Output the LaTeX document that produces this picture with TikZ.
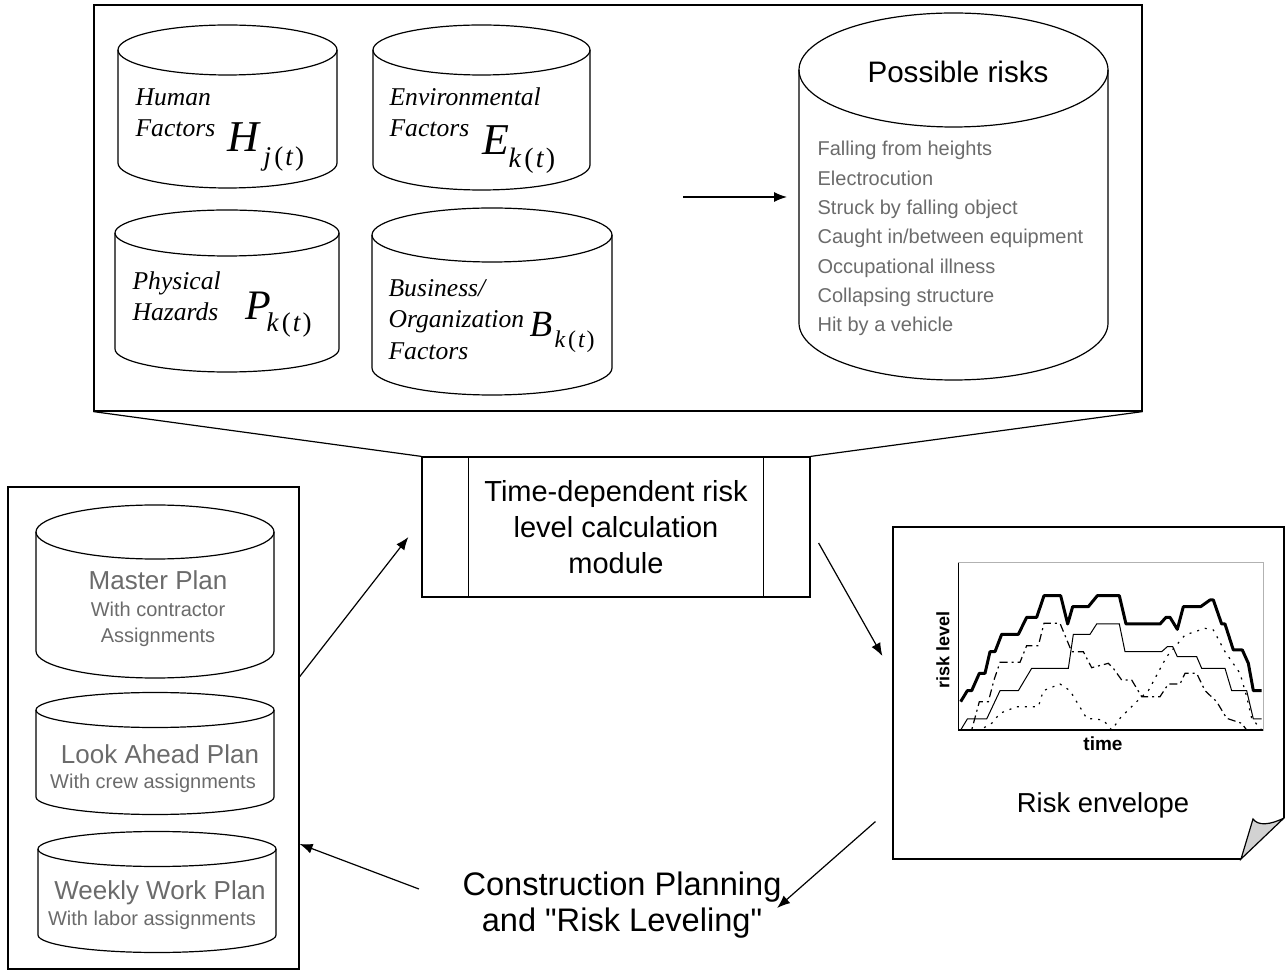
\documentclass[tikz,border=0pt]{standalone}
\usepackage{fontspec}
\setmainfont{Liberation Sans}
\newfontfamily\serif{Liberation Serif}
\usetikzlibrary{arrows.meta,calc}
\tikzset{>={Latex[length=6.5pt,width=5pt]}}
\colorlet{lightink}{black!58}
\tikzset{
  panel/.style={draw, inner sep=0pt},
  factortext/.style={font=\serif\itshape\fontsize{12.8}{15}\selectfont, anchor=base west, inner sep=0pt},
  risktext/.style={font=\fontsize{10}{12}\selectfont, text=lightink, anchor=base west, inner sep=0pt},
  plantitle/.style={font=\fontsize{13}{15}\selectfont, text=lightink, anchor=base, inner sep=0pt},
  plannote/.style={font=\fontsize{10}{12}\selectfont, text=lightink, anchor=base, inner sep=0pt}
}
% cylinder: left x, right x, top centre y, bottom centre y, half height of the ellipse
\newcommand{\drum}[5]{%
  \draw ({(#1+#2)/2},#3) ellipse [x radius={(#2-#1)/2}, y radius=#5];
  \draw (#1,#3) -- (#1,#4) arc [start angle=180, end angle=0, x radius={(#2-#1)/2}, y radius=#5] -- (#2,#3);
}
\newcommand{\bigvar}[2]{{\fontsize{#2}{#2}\selectfont\serif\itshape #1}}
\newcommand{\subvar}[2]{{\fontsize{#2}{#2}\selectfont\serif\itshape #1\kern0.12em\upshape(\kern0.08em\itshape t\kern0.08em\upshape)}}

\begin{document}
\begin{tikzpicture}[x=0.5pt,y=-0.5pt,line width=0.6pt]
  \useasboundingbox (0,0) rectangle (1285,972);

  % factors and possible risks
  \node[panel, minimum width=524pt, minimum height=203pt] (factors) at (618,208) {};
  \drum{118}{337}{50}{163}{25}
  \drum{373}{590}{50}{165}{25}
  \drum{115}{339}{233}{349}{23}
  \drum{372}{612}{235}{368}{27}
  \drum{799}{1108}{70}{323}{57}

  \node[factortext] (human1) at (135,106) {Human};
  \node[factortext] (human2) at (135,137) {Factors};
  \node[anchor=base west, inner sep=0pt] (hsym) at (227,152) {\bigvar{H}{22}};
  \node[anchor=base west, inner sep=0pt] (hsub) at (263,166) {\subvar{j}{13.5}};

  \node[factortext] (env1) at (389,106) {Environmental};
  \node[factortext] (env2) at (389,137) {Factors};
  \node[anchor=base west, inner sep=0pt] (esym) at (482,155) {\bigvar{E}{22}};
  \node[anchor=base west, inner sep=0pt] (esub) at (508,168) {\subvar{k}{14}};

  \node[factortext] (phys1) at (132,290) {Physical};
  \node[factortext] (phys2) at (132,321) {Hazards};
  \node[anchor=base west, inner sep=0pt] (psym) at (245,320) {\bigvar{P}{21}};
  \node[anchor=base west, inner sep=0pt] (psub) at (266,332) {\subvar{k}{13.5}};

  \node[factortext] (bus1) at (388,297) {Business/};
  \node[factortext] (bus2) at (388,328) {Organization};
  \node[factortext] (bus3) at (388,360) {Factors};
  \node[anchor=base west, inner sep=0pt] (bsym) at (529,337) {\bigvar{B}{18.5}};
  \node[anchor=base west, inner sep=0pt] (bsub) at (554,348) {\subvar{k}{12}};

  \coordinate (feed) at (683,197);
  \coordinate (risks) at (787,197);
  \draw[->] (feed) -- (risks);

  \node[anchor=base, inner sep=0pt, font=\fontsize{14.8}{17}\selectfont] (risktitle) at (958,83) {Possible risks};
  \foreach \hazard [count=\i from 0] in {Falling from heights, Electrocution,
      Struck by falling object, Caught in/between equipment, Occupational illness,
      Collapsing structure, Hit by a vehicle}
    \node[risktext] (risk\i) at (817,{156+29.3*\i}) {\hazard};

  % calculation module
  \node[panel, minimum width=194pt, minimum height=70pt, align=center,
    font=\fontsize{14.5}{18}\selectfont] (module) at (616,527)
    {Time-dependent risk\\level calculation\\module};
  \draw ([xshift=23.5pt]module.north west) -- ([xshift=23.5pt]module.south west);
  \draw ([xshift=-23.5pt]module.north east) -- ([xshift=-23.5pt]module.south east);
  \draw (factors.south west) -- (module.north west);
  \draw (factors.south east) -- (module.north east);

  % plans
  \node[panel, minimum width=145.5pt, minimum height=241pt] (plans) at (153.5,728) {};
  \drum{36}{274}{532}{651}{27}
  \drum{36}{274}{710}{797}{17.5}
  \drum{38}{276}{849}{935}{17.5}
  \node[plantitle] (master) at (158,589) {Master Plan};
  \node[plannote] (master1) at (158,617) {With contractor};
  \node[plannote] (master2) at (158,642) {Assignments};
  \node[plantitle] (look) at (160,763) {Look Ahead Plan};
  \node[plannote] (look1) at (153,788) {With crew assignments};
  \node[plantitle] (weekly) at (160,899) {Weekly Work Plan};
  \node[plannote] (weekly1) at (152,925) {With labor assignments};

  % risk envelope
  \node[minimum width=195.5pt, minimum height=166pt, inner sep=0pt] (envelope) at (1088.5,693) {};
  \draw (1241,859) -- (893,859) -- (893,527) -- (1284,527) -- (1284,818);
  \filldraw[fill=gray!35] (1241,859) -- (1253,819) .. controls (1258,826) and (1270,825) .. (1284,818) -- cycle;
  \begin{scope}[shift={(890,500)},scale=1/3]
    \draw[gray!60] (205,188) rectangle (1120,690);
    \draw (205,188) -- (205,690) -- (1120,690);
    \draw[line width=1.5pt, line join=round] (212,605) -- (232,572) -- (245,572) -- (268,520) -- (285,520)
      -- (300,455) -- (315,455) -- (335,403) -- (385,403) -- (410,352) -- (440,352) -- (462,287)
      -- (512,287) -- (533,372) -- (548,320) -- (595,320) -- (622,287) -- (688,287) -- (708,372)
      -- (810,372) -- (828,352) -- (840,352) -- (862,388) -- (880,320) -- (932,320) -- (960,300)
      -- (970,300) -- (995,372) -- (1005,372) -- (1030,450) -- (1057,450) -- (1075,490)
      -- (1090,572) -- (1115,572);
    \draw[line width=0.5pt] (212,690) -- (232,657) -- (290,657) -- (330,572) -- (385,572) -- (425,505)
      -- (535,505) -- (550,403) -- (600,403) -- (620,372) -- (688,372) -- (705,455) -- (815,455)
      -- (832,440) -- (848,440) -- (862,470) -- (920,470) -- (935,505) -- (1005,505) -- (1025,572)
      -- (1070,572) -- (1090,657) -- (1115,657);
    \draw[line width=0.6pt, dash pattern=on 4pt off 2pt on 1pt off 2pt] (212,690) -- (245,690)
      -- (268,605) -- (295,605) -- (312,540) -- (330,487) -- (390,487) -- (410,437) -- (445,437)
      -- (462,370) -- (510,370) -- (545,455) -- (580,455) -- (605,503) -- (655,490) -- (670,505)
      -- (695,540) -- (725,540) -- (755,590) -- (810,590) -- (835,552) -- (870,552) -- (885,520)
      -- (920,520) -- (945,572) -- (980,605) -- (1010,655) -- (1055,670) -- (1070,690) -- (1115,690);
    \draw[line width=0.6pt, dash pattern=on 1pt off 3pt] (212,690) -- (270,690) -- (305,670)
      -- (330,640) -- (380,620) -- (445,620) -- (460,572) -- (510,552) -- (540,572) -- (590,655)
      -- (640,660) -- (665,690) -- (690,655) -- (740,605) -- (775,572) -- (830,470) -- (885,405)
      -- (945,385) -- (970,390) -- (1005,455) -- (1050,520) -- (1070,590) -- (1085,655) -- (1115,690);
  \end{scope}
  \node[rotate=90, inner sep=0pt, font=\bfseries\fontsize{9}{10}\selectfont] (ylabel) at (943,650) {risk level};
  \node[anchor=base, inner sep=0pt, font=\bfseries\fontsize{9.5}{10}\selectfont] (xlabel) at (1103,750) {time};
  \node[anchor=base, inner sep=0pt, font=\fontsize{13.7}{16}\selectfont] (envtitle) at (1103,812) {Risk envelope};

  % planning and levelling
  \node[align=center, inner sep=0pt, font=\fontsize{16.3}{18}\selectfont] (plan) at (622,905)
    {Construction Planning\\and \textquotedbl Risk Leveling\textquotedbl};

  \draw[->] ($(plans.north east)!0.394!(plans.south east)$) -- ([xshift=-6.5pt,yshift=-5pt]module.west);
  \draw[->] ([xshift=4pt,yshift=-8pt]module.east) -- ([xshift=-5pt,yshift=18.5pt]envelope.west);
  \draw[->] ([xshift=-8.5pt,yshift=19pt]envelope.south west) -- ([xshift=-2.5pt,yshift=-1.5pt]plan.east);
  \draw[->] ([xshift=-21.5pt,yshift=8pt]plan.west) -- ($(plans.north east)!0.74!(plans.south east)$);
\end{tikzpicture}
\end{document}
